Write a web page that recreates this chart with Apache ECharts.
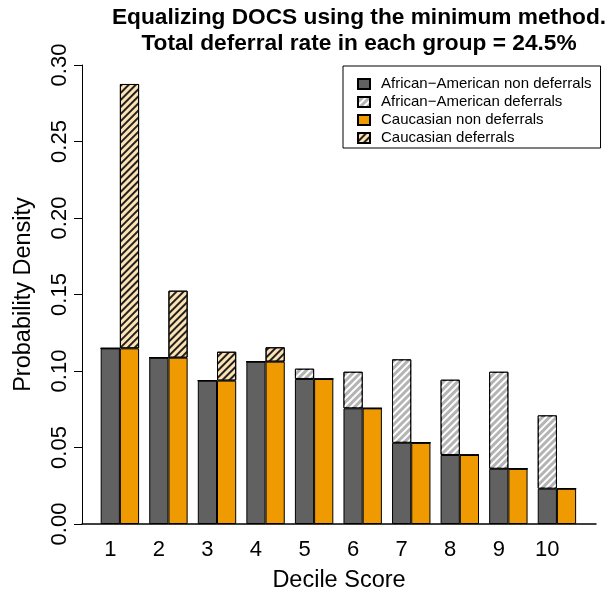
<!DOCTYPE html>
<html>
<head>
<meta charset="utf-8">
<script src="https://cdn.jsdelivr.net/npm/echarts@6/dist/echarts.min.js"></script>
<style>
  html, body { margin: 0; padding: 0; background: #fff; }
  #e1 { width: 608px; height: 598px; }
</style>
</head>
<body>
<div id="e1"></div>
<script>
// decile scores and densities
var deciles = [1, 2, 3, 4, 5, 6, 7, 8, 9, 10];
var aaNon = [0.1148, 0.1087, 0.0937, 0.1061, 0.0948, 0.0756, 0.0531, 0.0451, 0.0361, 0.0231];
var aaDef = [0, 0, 0, 0, 0.0067, 0.0239, 0.0545, 0.0492, 0.0634, 0.0479];
var caNon = [0.1148, 0.1087, 0.0937, 0.1061, 0.0948, 0.0756, 0.0531, 0.0451, 0.0361, 0.0231];
var caDef = [0.1728, 0.0438, 0.0189, 0.0094, 0, 0, 0, 0, 0, 0];
var yTicks = [0, 0.05, 0.10, 0.15, 0.20, 0.25, 0.30];
var names = ['African\u2212American non deferrals', 'African\u2212American deferrals',
	'Caucasian non deferrals', 'Caucasian deferrals'];

var font = 'Liberation Sans, Arial, Helvetica, sans-serif';
var e1 = echarts.init(document.getElementById('e1'));

function barSeries(name, stack, vals, color, decal) {
	var s = {
		name: name,
		type: 'bar',
		stack: stack,
		xAxisIndex: 0,
		yAxisIndex: 0,
		barWidth: 19.2,
		barGap: '0%',
		data: vals,
		itemStyle: {
			color: color,
			borderColor: '#000',
			borderWidth: 1
		}
	};
	if (decal) s.itemStyle.decal = decal;
	return s;
}

var grayHatch = {
	symbol: 'rect', symbolSize: 1,
	dashArrayX: [1, 0], dashArrayY: [1.6, 2.2],
	rotation: -Math.PI / 4, color: '#ffffff'
};
var orangeHatch = {
	symbol: 'rect', symbolSize: 1,
	dashArrayX: [1, 0], dashArrayY: [1.1, 2.5],
	rotation: -Math.PI / 4, color: '#222222'
};

var option = {
	animation: false,
	backgroundColor: '#fff',
	textStyle: { fontFamily: font },
	title: {
		text: 'Equalizing DOCS using the minimum method.\nTotal deferral rate in each group = 24.5%',
		left: 359,
		textAlign: 'center',
		top: 5,
		padding: 0,
		textStyle: {
			fontFamily: font,
			fontSize: 22.7,
			fontWeight: 'bold',
			color: '#000',
			lineHeight: 26
		}
	},
	legend: {
		orient: 'vertical',
		left: 343,
		top: 66,
		padding: [10, 9, 2, 14],
		borderColor: '#000',
		borderWidth: 1,
		itemWidth: 12,
		itemHeight: 10,
		itemGap: 2,
		icon: 'rect',
		data: names,
		textStyle: {
			fontFamily: font,
			fontSize: 15,
			color: '#000',
			lineHeight: 16,
			padding: [0, 0, 0, 6]
		}
	},
	// grid 0 holds the bars, grid 1 the R-style axes around them
	grid: [{
		left: 95.6,
		right: 26.8,
		top: 65,
		bottom: 74
	}, {
		left: 82,
		right: 12,
		top: 65,
		bottom: 74
	}],
	xAxis: [{
		type: 'category',
		gridIndex: 0,
		data: deciles,
		axisLine: { show: false },
		axisTick: { show: false },
		axisLabel: { show: false },
		splitLine: { show: false }
	}, {
		type: 'value',
		gridIndex: 1,
		min: 0,
		max: 1,
		axisLine: { show: true, onZero: false, lineStyle: { color: '#000', width: 1.5 } },
		axisTick: { show: false },
		axisLabel: { show: false },
		splitLine: { show: false }
	}, {
		type: 'value',
		gridIndex: 1,
		min: 0.4175,
		max: 11.0025,
		position: 'bottom',
		name: 'Decile Score',
		nameLocation: 'middle',
		nameGap: 45,
		nameTextStyle: { fontFamily: font, fontSize: 23.5, color: '#000' },
		axisLine: { show: false },
		axisTick: { show: false },
		splitLine: { show: false },
		axisLabel: {
			customValues: deciles,
			fontFamily: font,
			fontSize: 22,
			color: '#000',
			margin: 15
		}
	}],
	yAxis: [{
		type: 'value',
		gridIndex: 0,
		min: 0,
		max: 0.30,
		show: false
	}, {
		type: 'value',
		gridIndex: 1,
		min: 0,
		max: 0.30,
		interval: 0.05,
		name: 'Probability Density',
		nameLocation: 'middle',
		nameGap: 46,
		nameTextStyle: { fontFamily: font, fontSize: 23.5, color: '#000' },
		axisLine: { show: true, lineStyle: { color: '#000', width: 1 } },
		axisTick: { show: true, length: 8, lineStyle: { color: '#000' } },
		splitLine: { show: false },
		axisLabel: {
			customValues: yTicks,
			rotate: 90,
			margin: 11,
			fontFamily: font,
			fontSize: 22,
			color: '#000',
			formatter: function (v) { return v.toFixed(2); }
		}
	}],
	series: [
		barSeries(names[0], 'aa', aaNon, '#616161'),
		barSeries(names[1], 'aa', aaDef, '#b4b4b4', grayHatch),
		barSeries(names[2], 'ca', caNon, '#EE9A00'),
		barSeries(names[3], 'ca', caDef, '#FDE3B4', orangeHatch)
	]
};
e1.setOption(option);
</script>
</body>
</html>
